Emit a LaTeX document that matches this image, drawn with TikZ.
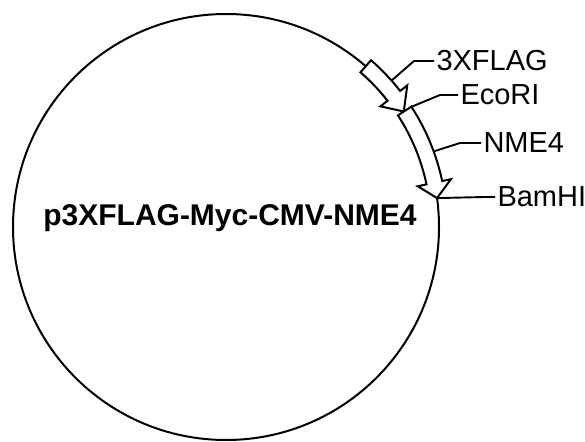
\documentclass[tikz,border=0pt]{standalone}
\usepackage{fontspec}
\setmainfont{Liberation Sans}
\begin{document}
\begin{tikzpicture}[x=1pt,y=1pt,line width=2pt,
    feature/.style={draw=black,fill=white,line join=miter},
    sitelabel/.style={anchor=west,inner sep=1.5pt,font=\fontsize{29}{32}\selectfont},
    leader/.style={draw=black,line width=1.9pt}]
    \useasboundingbox (0,0) rectangle (585,-441);
    \coordinate (c) at (226,-227);
    \draw [black] (c) circle (213pt);
    \node (plasmid) at (230,-225) [anchor=base,inner sep=0pt,font=\bfseries\fontsize{30}{33}\selectfont] {p3XFLAG-Myc-CMV-NME4};
    \begin{scope}[shift={(c)}]
    \draw [feature] (49:205) arc (49:38:205pt) -- (38:196) -- (33:212) -- (38:230) -- (38:221) arc (38:49:221pt) -- cycle;
    \draw [feature] (33:205) arc (33:12:205pt) -- (12:196) -- (7.8:213) -- (12:230) -- (12:221) arc (12:33:221pt) -- cycle;
    \coordinate (flagpt) at (41.5:221);
    \coordinate (ecopt) at (33:220);
    \coordinate (nmept) at (20:221);
    \coordinate (bampt) at (7.8:213);
    \end{scope}
    \node (flag) at (434,-61) [sitelabel] {3XFLAG};
    \node (eco) at (458,-95) [sitelabel] {EcoRI};
    \node (nme) at (481,-143) [sitelabel] {NME4};
    \node (bam) at (495,-197) [sitelabel] {BamHI};
    \coordinate (flagbend) at (414,-61);
    \coordinate (ecobend) at (440,-95);
    \coordinate (nmebend) at (460,-143);
    \coordinate (bambend) at (484,-197);
    \draw [leader] (flagpt) -- (flagbend) -- (flag.west);
    \draw [leader] (ecopt) -- (ecobend) -- (eco.west);
    \draw [leader] (nmept) -- (nmebend) -- (nme.west);
    \draw [leader] (bampt) -- (bambend) -- (bam.west);
\end{tikzpicture}
\end{document}
